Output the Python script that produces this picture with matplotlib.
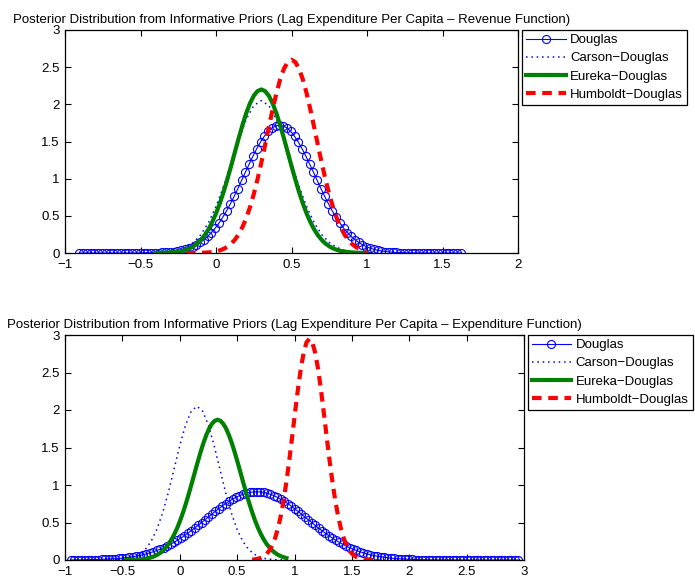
import matplotlib
matplotlib.use('Agg')
import matplotlib.pyplot as plt

# ---- data ----
# top panel: revenue function
top_douglas_x = [
    -0.905, -0.880, -0.855, -0.830, -0.805, -0.780, -0.755, -0.730, -0.705, -0.680,
    -0.655, -0.630, -0.605, -0.580, -0.555, -0.530, -0.505, -0.480, -0.455, -0.430,
    -0.405, -0.380, -0.355, -0.330, -0.305, -0.280, -0.255, -0.230, -0.205, -0.180,
    -0.155, -0.130, -0.105, -0.080, -0.055, -0.030, -0.005, 0.020, 0.045, 0.070,
    0.095, 0.120, 0.145, 0.170, 0.195, 0.220, 0.245, 0.270, 0.295, 0.320,
    0.345, 0.370, 0.395, 0.420, 0.445, 0.470, 0.495, 0.520, 0.545, 0.570,
    0.595, 0.620, 0.645, 0.670, 0.695, 0.720, 0.745, 0.770, 0.795, 0.820,
    0.845, 0.870, 0.895, 0.920, 0.945, 0.970, 0.995, 1.020, 1.045, 1.070,
    1.095, 1.120, 1.145, 1.170, 1.195, 1.220, 1.245, 1.270, 1.295, 1.320,
    1.345, 1.370, 1.395, 1.420, 1.445, 1.470, 1.495, 1.520, 1.545, 1.570,
    1.595, 1.620]
top_douglas_y = [
    0, 0, 0, 0, 0, 0, 0, 0, 0, 0,
    0, 0, 0, 0, 0, 0, 0.001, 0.001, 0.002, 0.002,
    0.004, 0.005, 0.007, 0.011, 0.015, 0.020, 0.028, 0.038, 0.050, 0.066,
    0.086, 0.111, 0.142, 0.179, 0.223, 0.275, 0.335, 0.404, 0.482, 0.567,
    0.661, 0.761, 0.867, 0.977, 1.088, 1.197, 1.304, 1.403, 1.493, 1.571,
    1.635, 1.682, 1.710, 1.720, 1.710, 1.682, 1.635, 1.571, 1.493, 1.403,
    1.304, 1.197, 1.088, 0.977, 0.867, 0.761, 0.661, 0.567, 0.482, 0.404,
    0.335, 0.275, 0.223, 0.179, 0.142, 0.111, 0.086, 0.066, 0.050, 0.038,
    0.028, 0.020, 0.015, 0.011, 0.007, 0.005, 0.004, 0.002, 0.002, 0.001,
    0.001, 0.001, 0, 0, 0, 0, 0, 0, 0, 0,
    0, 0]

top_carson_x = [
    -0.50, -0.45, -0.40, -0.35, -0.30, -0.25, -0.20, -0.15, -0.10, -0.05,
    0.00, 0.05, 0.10, 0.15, 0.20, 0.25, 0.30, 0.35, 0.40, 0.45,
    0.50, 0.55, 0.60, 0.65, 0.70, 0.75, 0.80, 0.85, 0.90, 0.95,
    1.00, 1.05, 1.10]
top_carson_y = [
    0.000, 0.001, 0.003, 0.008, 0.018, 0.038, 0.076, 0.142, 0.248, 0.407,
    0.625, 0.898, 1.209, 1.523, 1.796, 1.983, 2.050, 1.983, 1.796, 1.523,
    1.209, 0.898, 0.625, 0.407, 0.248, 0.142, 0.076, 0.038, 0.018, 0.008,
    0.003, 0.001, 0.000]

top_eureka_x = [
    -0.400, -0.375, -0.350, -0.325, -0.300, -0.275, -0.250, -0.225, -0.200, -0.175,
    -0.150, -0.125, -0.100, -0.075, -0.050, -0.025, 0.000, 0.025, 0.050, 0.075,
    0.100, 0.125, 0.150, 0.175, 0.200, 0.225, 0.250, 0.275, 0.300, 0.325,
    0.350, 0.375, 0.400, 0.425, 0.450, 0.475, 0.500, 0.525, 0.550, 0.575,
    0.600, 0.625, 0.650, 0.675, 0.700, 0.725, 0.750, 0.775, 0.800, 0.825,
    0.850, 0.875, 0.900, 0.925, 0.950, 0.975, 1.000]
top_eureka_y = [
    0.001, 0.002, 0.003, 0.005, 0.008, 0.012, 0.019, 0.028, 0.043, 0.063,
    0.090, 0.127, 0.176, 0.239, 0.318, 0.416, 0.532, 0.667, 0.821, 0.990,
    1.170, 1.357, 1.542, 1.719, 1.879, 2.013, 2.115, 2.178, 2.200, 2.178,
    2.115, 2.013, 1.879, 1.719, 1.542, 1.357, 1.170, 0.990, 0.821, 0.667,
    0.532, 0.416, 0.318, 0.239, 0.176, 0.127, 0.090, 0.063, 0.043, 0.028,
    0.019, 0.012, 0.008, 0.005, 0.003, 0.002, 0.001]

top_humboldt_x = [
    -0.200, -0.175, -0.150, -0.125, -0.100, -0.075, -0.050, -0.025, 0.000, 0.025,
    0.050, 0.075, 0.100, 0.125, 0.150, 0.175, 0.200, 0.225, 0.250, 0.275,
    0.300, 0.325, 0.350, 0.375, 0.400, 0.425, 0.450, 0.475, 0.500, 0.525,
    0.550, 0.575, 0.600, 0.625, 0.650, 0.675, 0.700, 0.725, 0.750, 0.775,
    0.800, 0.825, 0.850, 0.875, 0.900, 0.925, 0.950, 0.975, 1.000]
top_humboldt_y = [
    0.000, 0.000, 0.001, 0.002, 0.003, 0.005, 0.008, 0.014, 0.022, 0.035,
    0.055, 0.083, 0.123, 0.178, 0.252, 0.348, 0.468, 0.616, 0.790, 0.991,
    1.213, 1.451, 1.694, 1.931, 2.149, 2.336, 2.479, 2.569, 2.600, 2.569,
    2.479, 2.336, 2.149, 1.931, 1.694, 1.451, 1.213, 0.991, 0.790, 0.616,
    0.468, 0.348, 0.252, 0.178, 0.123, 0.083, 0.055, 0.035, 0.022]

# bottom panel: expenditure function
bot_douglas_x = [
    -0.95, -0.92, -0.89, -0.86, -0.83, -0.80, -0.77, -0.74, -0.71, -0.68,
    -0.65, -0.62, -0.59, -0.56, -0.53, -0.50, -0.47, -0.44, -0.41, -0.38,
    -0.35, -0.32, -0.29, -0.26, -0.23, -0.20, -0.17, -0.14, -0.11, -0.08,
    -0.05, -0.02, 0.01, 0.04, 0.07, 0.10, 0.13, 0.16, 0.19, 0.22,
    0.25, 0.28, 0.31, 0.34, 0.37, 0.40, 0.43, 0.46, 0.49, 0.52,
    0.55, 0.58, 0.61, 0.64, 0.67, 0.70, 0.73, 0.76, 0.79, 0.82,
    0.85, 0.88, 0.91, 0.94, 0.97, 1.00, 1.03, 1.06, 1.09, 1.12,
    1.15, 1.18, 1.21, 1.24, 1.27, 1.30, 1.33, 1.36, 1.39, 1.42,
    1.45, 1.48, 1.51, 1.54, 1.57, 1.60, 1.63, 1.66, 1.69, 1.72,
    1.75, 1.78, 1.81, 1.84, 1.87, 1.90, 1.93, 1.96, 1.99, 2.02,
    2.05, 2.08, 2.11, 2.14, 2.17, 2.20, 2.23, 2.26, 2.29, 2.32,
    2.35, 2.38, 2.41, 2.44, 2.47, 2.50, 2.53, 2.56, 2.59, 2.62,
    2.65, 2.68, 2.71, 2.74, 2.77, 2.80, 2.83, 2.86, 2.89, 2.92,
    2.95]
bot_douglas_y = [
    0.001, 0.001, 0.002, 0.002, 0.003, 0.003, 0.004, 0.005, 0.006, 0.008,
    0.010, 0.012, 0.015, 0.018, 0.021, 0.026, 0.031, 0.037, 0.044, 0.051,
    0.060, 0.071, 0.082, 0.096, 0.110, 0.127, 0.145, 0.165, 0.186, 0.210,
    0.236, 0.263, 0.292, 0.323, 0.356, 0.390, 0.426, 0.462, 0.499, 0.537,
    0.575, 0.612, 0.649, 0.685, 0.720, 0.753, 0.783, 0.811, 0.836, 0.858,
    0.876, 0.891, 0.902, 0.908, 0.910, 0.908, 0.902, 0.891, 0.876, 0.858,
    0.836, 0.811, 0.783, 0.753, 0.720, 0.685, 0.649, 0.612, 0.575, 0.537,
    0.499, 0.462, 0.426, 0.390, 0.356, 0.323, 0.292, 0.263, 0.236, 0.210,
    0.186, 0.165, 0.145, 0.127, 0.110, 0.096, 0.082, 0.071, 0.060, 0.051,
    0.044, 0.037, 0.031, 0.026, 0.021, 0.018, 0.015, 0.012, 0.010, 0.008,
    0.006, 0.005, 0.004, 0.003, 0.003, 0.002, 0.002, 0.001, 0.001, 0.001,
    0.001, 0.001, 0, 0, 0, 0, 0, 0, 0, 0,
    0, 0, 0, 0, 0, 0, 0, 0, 0, 0,
    0]

bot_carson_x = [
    -0.60, -0.55, -0.50, -0.45, -0.40, -0.35, -0.30, -0.25, -0.20, -0.15,
    -0.10, -0.05, 0.00, 0.05, 0.10, 0.15, 0.20, 0.25, 0.30, 0.35,
    0.40, 0.45, 0.50, 0.55, 0.60, 0.65, 0.70, 0.75, 0.80, 0.85,
    0.90]
bot_carson_y = [
    0.001, 0.003, 0.008, 0.018, 0.038, 0.076, 0.142, 0.248, 0.407, 0.625,
    0.898, 1.209, 1.523, 1.796, 1.983, 2.050, 1.983, 1.796, 1.523, 1.209,
    0.898, 0.625, 0.407, 0.248, 0.142, 0.076, 0.038, 0.018, 0.008, 0.003,
    0.001]

bot_eureka_x = [
    -0.470, -0.445, -0.420, -0.395, -0.370, -0.345, -0.320, -0.295, -0.270, -0.245,
    -0.220, -0.195, -0.170, -0.145, -0.120, -0.095, -0.070, -0.045, -0.020, 0.005,
    0.030, 0.055, 0.080, 0.105, 0.130, 0.155, 0.180, 0.205, 0.230, 0.255,
    0.280, 0.305, 0.330, 0.355, 0.380, 0.405, 0.430, 0.455, 0.480, 0.505,
    0.530, 0.555, 0.580, 0.605, 0.630, 0.655, 0.680, 0.705, 0.730, 0.755,
    0.780, 0.805, 0.830, 0.855, 0.880, 0.905, 0.930]
bot_eureka_y = [
    0.001, 0.001, 0.002, 0.004, 0.005, 0.008, 0.012, 0.018, 0.026, 0.037,
    0.051, 0.070, 0.096, 0.128, 0.168, 0.218, 0.279, 0.351, 0.435, 0.532,
    0.641, 0.760, 0.889, 1.024, 1.162, 1.299, 1.431, 1.553, 1.660, 1.749,
    1.815, 1.856, 1.870, 1.856, 1.815, 1.749, 1.660, 1.553, 1.431, 1.299,
    1.162, 1.024, 0.889, 0.760, 0.641, 0.532, 0.435, 0.351, 0.279, 0.218,
    0.168, 0.128, 0.096, 0.070, 0.051, 0.037, 0.026]

bot_humboldt_x = [
    0.630, 0.655, 0.680, 0.705, 0.730, 0.755, 0.780, 0.805, 0.830, 0.855,
    0.880, 0.905, 0.930, 0.955, 0.980, 1.005, 1.030, 1.055, 1.080, 1.105,
    1.130, 1.155, 1.180, 1.205, 1.230, 1.255, 1.280, 1.305, 1.330, 1.355,
    1.380, 1.405, 1.430, 1.455, 1.480, 1.505, 1.530, 1.555, 1.580, 1.605,
    1.630, 1.655, 1.680]
bot_humboldt_y = [
    0.005, 0.009, 0.016, 0.028, 0.047, 0.078, 0.124, 0.192, 0.287, 0.417,
    0.585, 0.796, 1.048, 1.335, 1.648, 1.969, 2.277, 2.550, 2.765, 2.903,
    2.950, 2.903, 2.765, 2.550, 2.277, 1.969, 1.648, 1.335, 1.048, 0.796,
    0.585, 0.417, 0.287, 0.192, 0.124, 0.078, 0.047, 0.028, 0.016, 0.009,
    0.005, 0.002, 0.001]

labels = ['Douglas', 'Carson\u2212Douglas', 'Eureka\u2212Douglas', 'Humboldt\u2212Douglas']
titles = ['Posterior Distribution from Informative Priors (Lag Expenditure Per Capita \u2013 Revenue Function)',
          'Posterior Distribution from Informative Priors (Lag Expenditure Per Capita \u2013 Expenditure Function)']
top_xticks = [-1, -0.5, 0, 0.5, 1, 1.5, 2]
bot_xticks = [-1, -0.5, 0, 0.5, 1, 1.5, 2, 2.5, 3]
yticks = [0, 0.5, 1, 1.5, 2, 2.5, 3]


def fmt(v):
    return ('%g' % v).replace('-', '\u2212')


def draw(ax, series, xticks, title, leg_x):
    (dx, dy), (cx, cy), (ex, ey), (hx, hy) = series
    ax.plot(dx, dy, color='blue', lw=0.8, marker='o', ms=5.8,
            mfc='none', mec='blue', mew=0.8, label=labels[0])
    ax.plot(cx, cy, color='blue', lw=1.1, ls=(0, (1, 2.5)), label=labels[1])
    ax.plot(ex, ey, color=(0, 0.5, 0), lw=3, label=labels[2])
    h, = ax.plot(hx, hy, color='red', lw=3, label=labels[3])
    h.set_dashes([2.3, 1.6])
    h.set_dash_capstyle('butt')

    ax.set_xlim(xticks[0], xticks[-1])
    ax.set_ylim(0, 3)
    ax.set_xticks(xticks)
    ax.set_xticklabels([fmt(v) for v in xticks])
    ax.set_yticks(yticks)
    ax.set_yticklabels([fmt(v) for v in yticks])
    ax.tick_params(direction='in', top=True, right=True, length=4,
                   width=0.8, labelsize=9.5, pad=4)
    for s in ax.spines.values():
        s.set_linewidth(0.9)
    ax.set_title(title, fontsize=9.5, pad=5)

    leg = ax.legend(loc='upper left', bbox_to_anchor=(leg_x, 1.0),
                    borderaxespad=0, fancybox=False, edgecolor='black',
                    framealpha=1, fontsize=9.5, handlelength=3.0,
                    handletextpad=0.35, labelspacing=0.45, borderpad=0.3)
    leg.get_frame().set_linewidth(0.9)


def main():
    plt.rcParams['font.family'] = ['Liberation Sans', 'DejaVu Sans']
    fig = plt.figure(figsize=(6.95, 5.82), dpi=100)

    ax1 = fig.add_axes([65 / 695, 1 - 253 / 582, 453 / 695, 223 / 582])
    draw(ax1, [(top_douglas_x, top_douglas_y), (top_carson_x, top_carson_y),
               (top_eureka_x, top_eureka_y), (top_humboldt_x, top_humboldt_y)],
         top_xticks, titles[0], 1.009)

    ax2 = fig.add_axes([65 / 695, 1 - 560 / 582, 459 / 695, 225 / 582])
    draw(ax2, [(bot_douglas_x, bot_douglas_y), (bot_carson_x, bot_carson_y),
               (bot_eureka_x, bot_eureka_y), (bot_humboldt_x, bot_humboldt_y)],
         bot_xticks, titles[1], 1.008)

    fig.savefig('out.png', dpi=100)


if __name__ == '__main__':
    main()
